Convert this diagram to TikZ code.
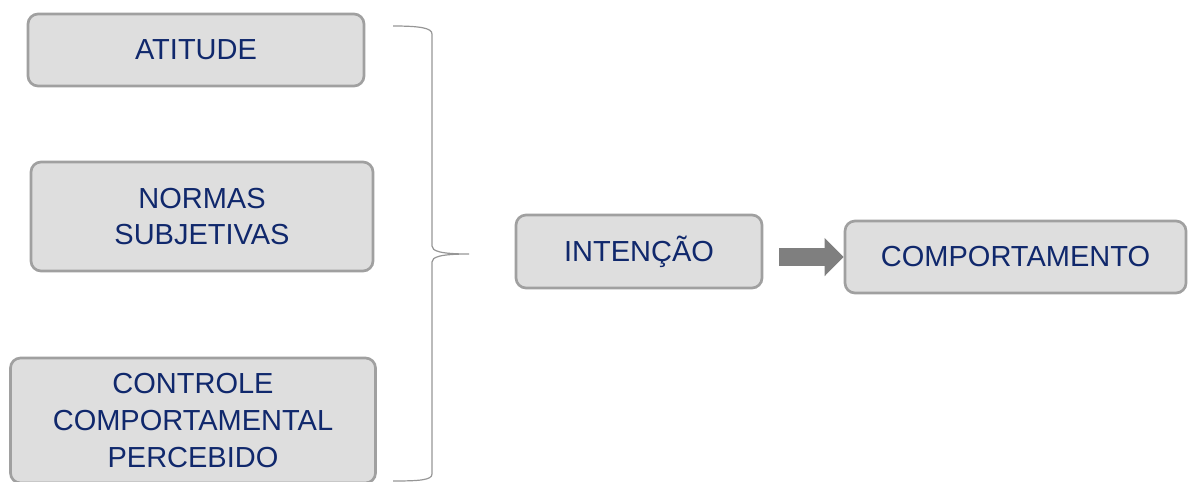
\documentclass[tikz,border=0pt]{standalone}
\usepackage{fontspec}
\setmainfont{Liberation Sans}
\usetikzlibrary{arrows.meta}
\definecolor{boxfill}{RGB}{222,222,222}
\definecolor{boxline}{RGB}{160,160,160}
\definecolor{navy}{RGB}{16,40,108}
\definecolor{arrowgrey}{RGB}{127,127,127}
\definecolor{bracegrey}{RGB}{150,150,150}
\tikzset{
  factor/.style={draw=boxline, fill=boxfill, line width=2pt, rounded corners=7.5pt,
    text=navy, align=center, inner sep=0pt,
    font=\fontsize{21.75pt}{27.5pt}\selectfont},
  flow/.style={draw=arrowgrey, line width=13.5pt,
    -{Triangle[length=14.25pt, width=27.75pt]}},
  brace/.style={draw=bracegrey, line width=0.9pt}
}
\begin{document}
\begin{tikzpicture}[x=0.75pt, y=-0.75pt]
  \useasboundingbox (0,0) rectangle (1189,482);
  % the three determinants
  \node[factor, minimum width=252pt, minimum height=54pt] (att) at (196,50) {ATITUDE};
  \node[factor, minimum width=256.5pt, minimum height=81.75pt] (norm) at (202,216.5) {NORMAS\\SUBJETIVAS};
  \node[factor, minimum width=273.75pt, minimum height=93.75pt] (ctrl) at (193,420.5) {CONTROLE\\COMPORTAMENTAL\\PERCEBIDO};
  % intention and behaviour
  \node[factor, minimum width=184.5pt, minimum height=54.75pt] (int) at (639,251.5) {INTENÇÃO};
  \node[factor, minimum width=255.75pt, minimum height=54pt] (beh) at (1015.5,257) {COMPORTAMENTO};
  % curly brace grouping the determinants
  \draw[brace] (393,26) .. controls (420,26) and (432,28) .. (432,34)
    -- (432,246) .. controls (432,251) and (440,254) .. (469,254)
    .. controls (440,254) and (432,257) .. (432,262)
    -- (432,474) .. controls (432,480) and (420,481) .. (393,481);
  % block arrow from intention to behaviour
  \draw[flow, shorten <=12pt] (int.east |- beh.west) -- (beh.west);
\end{tikzpicture}
\end{document}
